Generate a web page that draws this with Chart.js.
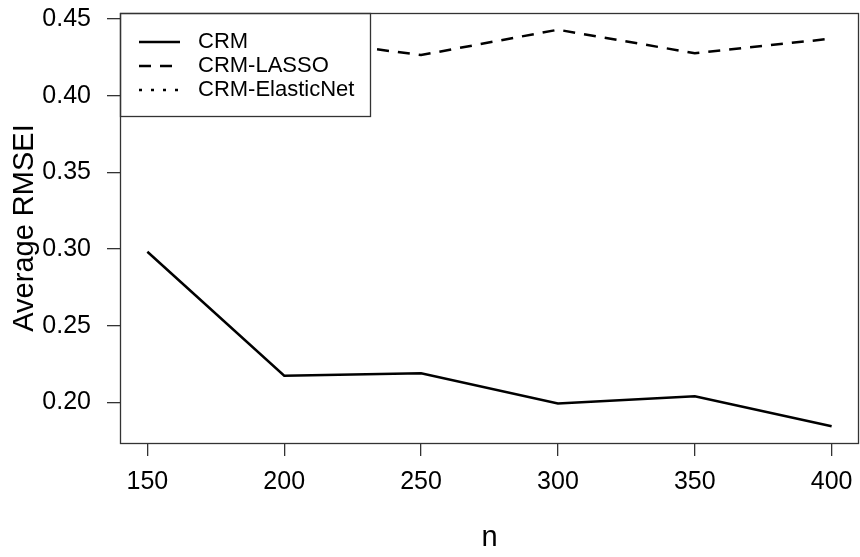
<!DOCTYPE html>
<html>
<head>
<meta charset="utf-8">
<script src="https://cdn.jsdelivr.net/npm/chart.js@4/dist/chart.umd.min.js"></script>
<style>
  html, body { margin: 0; padding: 0; background: #fff; }
  canvas { display: block; }
</style>
</head>
<body>
<canvas id="RmseChart" width="860" height="557"></canvas>
<script>
// values
var nValues = [150, 200, 250, 300, 350, 400];
var crmValues = [0.2983, 0.2175, 0.219, 0.1993, 0.204, 0.1845];
var lassoValues = [0.430, 0.438, 0.4265, 0.443, 0.4277, 0.4372];
// CRM-ElasticNet is in the legend but no part of it shows in the plot
var elasticValues = [null, null, null, null, null, null];

var seriesNames = ["CRM", "CRM-LASSO", "CRM-ElasticNet"];
var xTicks = [150, 200, 250, 300, 350, 400];
var yTicks = [0.20, 0.25, 0.30, 0.35, 0.40, 0.45];

var FontName = "'Liberation Sans', Arial, sans-serif";

function ToPoints(values)
{
    return nValues.map(function(n, i) { return { x: n, y: values[i] }; });
}

function MakeSeries(label, values, dash)
{
    return {
        label: label,
        data: ToPoints(values),
        borderColor: '#000',
        backgroundColor: '#000',
        borderWidth: 2.5,
        borderDash: dash,
        pointRadius: 0,
        tension: 0,
        fill: false
    };
}

function $each(list, fn)
{
    for (var i = 0; i < list.length; i++) fn(list[i], i);
}

// box round the plot, like R's box()
var framePlugin = {
    id: 'frame',
    afterDraw: function(chart)
    {
        var a = chart.chartArea;
        var ctx = chart.ctx;
        ctx.save();
        ctx.strokeStyle = '#333';
        ctx.lineWidth = 1.3;
        ctx.strokeRect(a.left + 0.5, a.top + 0.5, a.right - a.left - 1, a.bottom - a.top);
        ctx.restore();
    }
};

// legend sits inside the plot, top left, over the lines
var boxLegendPlugin = {
    id: 'boxLegend',
    afterDatasetsDraw: function(chart)
    {
        var ctx = chart.ctx;
        var a = chart.chartArea;
        var bx = a.left, by = a.top, bw = 250, bh = 103;
        var rows = [29, 53, 77];

        ctx.save();
        ctx.fillStyle = '#fff';
        ctx.fillRect(bx, by, bw, bh);
        ctx.strokeStyle = '#333';
        ctx.lineWidth = 1.3;
        ctx.strokeRect(bx + 0.5, by + 0.5, bw, bh);

        ctx.font = "22px " + FontName;
        ctx.textBaseline = 'middle';
        ctx.textAlign = 'left';
        $each(chart.data.datasets, function(ds, i)
        {
            var y = by + rows[i];
            ctx.strokeStyle = '#000';
            ctx.lineWidth = 2.5;
            ctx.setLineDash(ds.borderDash || []);
            ctx.beginPath();
            ctx.moveTo(bx + 19, y);
            ctx.lineTo(bx + 60, y);
            ctx.stroke();
            ctx.setLineDash([]);
            ctx.fillStyle = '#000';
            ctx.fillText(ds.label, bx + 78, y);
        });
        ctx.restore();
    }
};

var canvasRmse = document.getElementById("RmseChart").getContext('2d');

var myLineChart = new Chart(canvasRmse, {
    type: 'line',
    data: {
        datasets: [
            MakeSeries(seriesNames[0], crmValues, []),
            MakeSeries(seriesNames[1], lassoValues, [12, 9]),
            MakeSeries(seriesNames[2], elasticValues, [3, 9])
        ]
    },
    options: {
        responsive: false,
        animation: false,
        layout: { padding: { top: 13, right: 1, left: 0, bottom: 0 } },
        plugins: {
            legend: { display: false },
            tooltip: { enabled: false }
        },
        scales: {
            x: {
                type: 'linear',
                min: 140,
                max: 410,
                afterBuildTicks: function(scale) {
                    scale.ticks = xTicks.map(function(v) { return { value: v }; });
                },
                afterFit: function(scale) {
                    scale.height = 114;
                    scale.paddingLeft = 0;
                    scale.paddingRight = 0;
                },
                grid: { drawOnChartArea: false, drawTicks: true, tickLength: 13, color: '#333', lineWidth: 1.3 },
                border: { display: false },
                ticks: {
                    color: '#000',
                    padding: 11,
                    maxRotation: 0,
                    font: { family: FontName, size: 25 },
                    callback: function(v) { return String(v); }
                },
                title: {
                    display: true,
                    text: 'n',
                    color: '#000',
                    font: { family: FontName, size: 29 },
                    padding: { top: 0, bottom: 2 }
                }
            },
            y: {
                type: 'linear',
                min: 0.1736,
                max: 0.4539,
                afterBuildTicks: function(scale) {
                    scale.ticks = yTicks.map(function(v) { return { value: v }; });
                },
                afterFit: function(scale) {
                    scale.width = 120;
                    scale.paddingTop = 0;
                    scale.paddingBottom = 0;
                },
                grid: { drawOnChartArea: false, drawTicks: true, tickLength: 13, color: '#333', lineWidth: 1.3 },
                border: { display: false },
                ticks: {
                    color: '#000',
                    padding: 16,
                    font: { family: FontName, size: 25 },
                    callback: function(v) { return Number(v).toFixed(2); }
                },
                title: {
                    display: true,
                    text: 'Average RMSEI',
                    color: '#000',
                    font: { family: FontName, size: 29 },
                    padding: { top: 8, bottom: 0 }
                }
            }
        }
    },
    plugins: [framePlugin, boxLegendPlugin]
});
</script>
</body>
</html>
